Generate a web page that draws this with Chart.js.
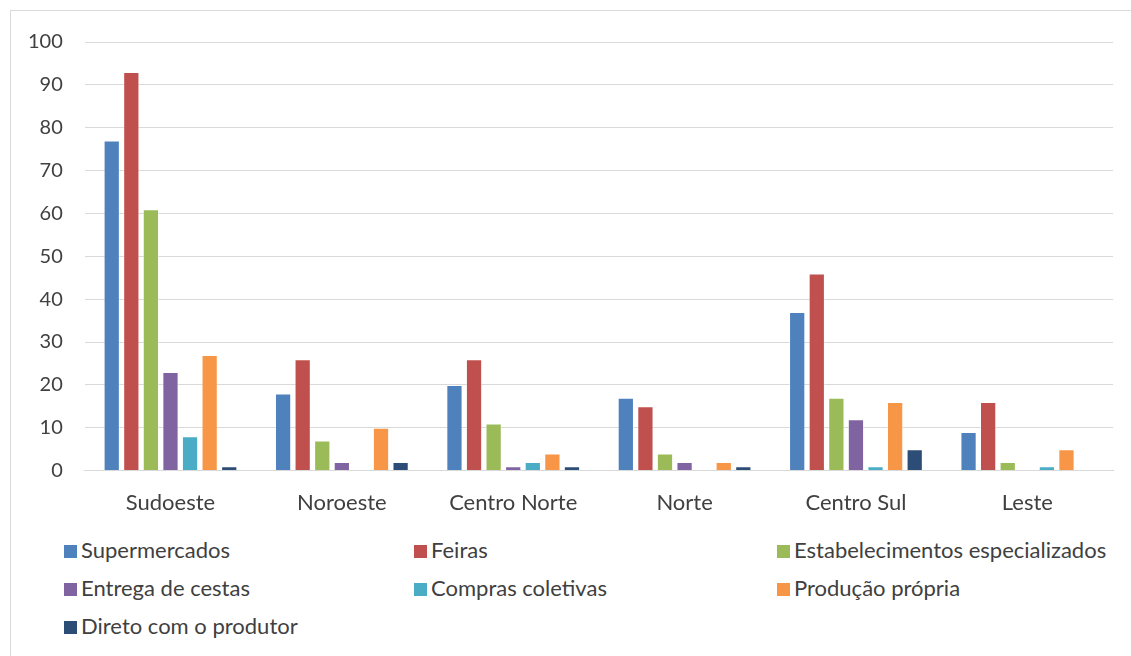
<!DOCTYPE html>
<html>
<head>
<meta charset="utf-8">
<script src="https://cdn.jsdelivr.net/npm/chart.js@4.4.0/dist/chart.umd.min.js"></script>
<style>
    body { margin: 0; background: #fff; font-family: Lato, "Open Sans", sans-serif; }
    #frame { position: absolute; left: 10px; top: 10px; width: 1140px; height: 660px; border: 1px solid #d9d9d9; box-sizing: border-box; }
    #wrap { position: absolute; left: 0; top: 0; width: 1131px; height: 527px; }
    #legend { position: absolute; left: 64px; top: 536px; width: 1070px; }
    .item { position: absolute; font-size: 22px; color: #404040; white-space: nowrap; }
    .item span.box { display: inline-block; width: 13px; height: 13px; margin-right: 4px; vertical-align: 0px; }
</style>
</head>
<body>
<div id="frame"></div>
<div id="wrap"><canvas id="barChart"></canvas></div>
<div id="legend"></div>
<script>
var regions = ['Sudoeste', 'Noroeste', 'Centro Norte', 'Norte', 'Centro Sul', 'Leste'];

var supermercados = [77, 18, 20, 17, 37, 9];
var feiras = [93, 26, 26, 15, 46, 16];
var estabelecimentos = [61, 7, 11, 4, 17, 2];
var entregaCestas = [23, 2, 1, 2, 12, 0];
var comprasColetivas = [8, 0, 2, 0, 1, 1];
var producaoPropria = [27, 10, 4, 2, 16, 5];
var diretoProdutor = [1, 2, 1, 1, 5, 0];

var yTicks = [0, 10, 20, 30, 40, 50, 60, 70, 80, 90, 100];

function series(label, data, color) {
    return {
        label: label,
        data: data,
        backgroundColor: color,
        borderColor: 'rgba(255,255,255,0.45)',
        borderWidth: 1,
        barPercentage: 0.83,
        categoryPercentage: 0.8
    };
}

var chartData = {
    labels: regions,
    datasets: [
        series('Supermercados', supermercados, '#4f81bd'),
        series('Feiras', feiras, '#c0504d'),
        series('Estabelecimentos especializados', estabelecimentos, '#9bbb59'),
        series('Entrega de cestas', entregaCestas, '#8064a2'),
        series('Compras coletivas', comprasColetivas, '#4bacc6'),
        series('Produção própria', producaoPropria, '#f79646'),
        series('Direto com o produtor', diretoProdutor, '#2c4d75')
    ]
};

var ctx = document.getElementById('barChart').getContext('2d');
var barChart = new Chart(ctx, {
    type: 'bar',
    data: chartData,
    options: {
        responsive: true,
        maintainAspectRatio: false,
        animation: false,
        layout: { padding: { left: 6, right: 18, top: 42, bottom: 0 } },
        plugins: {
            legend: { display: false },
            tooltip: { enabled: false }
        },
        scales: {
            x: {
                grid: { display: false },
                border: { color: '#d9d9d9', width: 1 },
                ticks: { color: '#404040', font: { family: 'Lato', size: 22 }, padding: 11 }
            },
            y: {
                min: 0,
                max: 100,
                afterBuildTicks: function (axis) {
                    axis.ticks = yTicks.map(function (v) { return { value: v }; });
                },
                grid: { color: '#d9d9d9', lineWidth: 1, drawTicks: false },
                border: { display: false },
                ticks: { color: '#404040', font: { family: 'Lato', size: 20 }, padding: 22 }
            }
        }
    }
});

// legend in three columns like the original
var legendEl = document.getElementById('legend');
var colX = [0, 350, 713];
chartData.datasets.forEach(function (ds, i) {
    var div = document.createElement('div');
    div.className = 'item';
    div.style.left = colX[i % 3] + 'px';
    div.style.top = (Math.floor(i / 3) * 38) + 'px';
    div.innerHTML = '<span class="box" style="background:' + ds.backgroundColor + '"></span>' + ds.label;
    legendEl.appendChild(div);
});
</script>
</body>
</html>
